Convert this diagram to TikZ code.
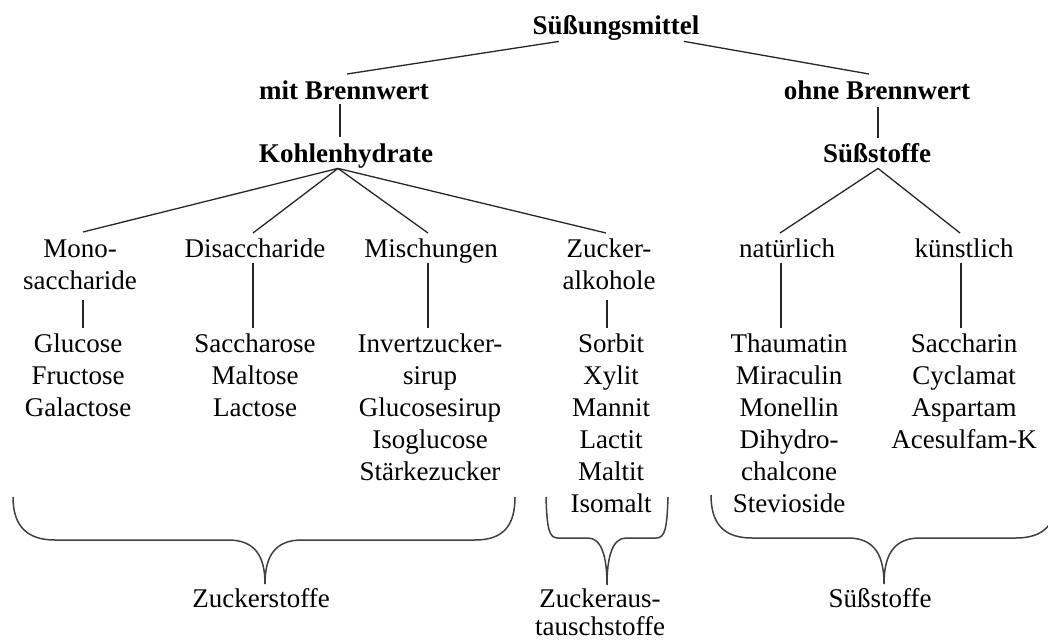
\documentclass[tikz,border=0pt]{standalone}
\usepackage{fontspec}
\setmainfont{Liberation Serif}
\usetikzlibrary{calc}
\begin{document}
\begin{tikzpicture}[x=1pt,y=-1pt,
  every node/.style={inner sep=0pt, outer sep=0pt, anchor=north, align=center, font=\fontsize{27}{32}\selectfont},
  hd/.style={font=\bfseries\fontsize{27}{32}\selectfont},
  conn/.style={line width=1.3pt, draw=black!85},
  brace/.style={line width=1.5pt, draw=black!75}]
\useasboundingbox (0,0) rectangle (1048,639);
\clip (0,0) rectangle (1048,639);
% headings
\node[hd] (root) at (616,12) {\strut Süßungsmittel};
\node[hd] (mb) at (344,77) {\strut mit Brennwert};
\node[hd] (ob) at (877,77) {\strut ohne Brennwert};
\node[hd] (kh) at (346,140) {\strut Kohlenhydrate};
\node[hd] (ss) at (877,140) {\strut Süßstoffe};
% categories
\node (mono) at (80,235) {\strut Mono-\\saccharide\strut};
\node (di) at (255,235) {\strut Disaccharide};
\node (mi) at (431,235) {\strut Mischungen};
\node (za) at (609,235) {\strut Zucker-\\alkohole\strut};
\node (nat) at (787,235) {\strut natürlich};
\node (kue) at (964,235) {\strut künstlich};
% lists
\node (ml1) at (78,330) {\strut Glucose\\Fructose\\Galactose\strut};
\node (dl) at (255,330) {\strut Saccharose\\Maltose\\Lactose\strut};
\node (mil) at (430,330) {\strut Invertzucker-\\sirup\\Glucosesirup\\Isoglucose\\Stärkezucker\strut};
\node (zl) at (611,330) {\strut Sorbit\\Xylit\\Mannit\\Lactit\\Maltit\\Isomalt\strut};
\node (nl) at (789,330) {\strut Thaumatin\\Miraculin\\Monellin\\Dihydro-\\chalcone\\Stevioside\strut};
\node (kl) at (964,330) {\strut Saccharin\\Cyclamat\\Aspartam\\Acesulfam-K\strut};
% bottom labels
\node (zs) at (261,585) {\strut Zuckerstoffe};
\node[font=\fontsize{27}{28}\selectfont] (zas) at (600,587.4) {\strut Zuckeraus-\\tauschstoffe};
\node (sst) at (880,585) {\strut Süßstoffe};
% connectors
\draw[conn] ($(root.south)+(-57,-2.6)$) -- ($(mb.north)+(3,-3)$);
\draw[conn] ($(root.south)+(68,-2.6)$) -- ($(ob.north)+(-8,-3)$);
\draw[conn] ($(mb.south)+(-4,-4.6)$) -- ($(kh.north)+(-6,-3)$);
\draw[conn] ($(ob.south)+(1,-1.6)$) -- ($(ss.north)+(1,-2)$);
\draw[conn] ($(kh.south)+(-8,-3.6)$) -- ($(mono.north)+(3,-3)$);
\draw[conn] ($(kh.south)+(-8,-3.6)$) -- ($(di.north)+(-2,-2)$);
\draw[conn] ($(kh.south)+(-8,-3.6)$) -- ($(mi.north)+(-3,-2)$);
\draw[conn] ($(kh.south)+(-8,-3.6)$) -- ($(za.north)+(-3,-2)$);
\draw[conn] ($(ss.south)+(1,-3.6)$) -- ($(nat.north)+(-7,-2)$);
\draw[conn] ($(ss.south)+(1,-3.6)$) -- ($(kue.north)+(-4,-2)$);
\draw[conn] ($(mono.south)+(3,1.4)$) -- ($(ml1.north)+(5,-2)$);
\draw[conn] ($(di.south)+(-2,-3.6)$) -- ($(dl.north)+(-2,-2)$);
\draw[conn] ($(mi.south)+(-3,-3.6)$) -- ($(mil.north)+(-2,-2)$);
\draw[conn] ($(za.south)+(-2,1.4)$) -- ($(zl.north)+(-4,-2)$);
\draw[conn] ($(nat.south)+(-6,-3.6)$) -- ($(nl.north)+(-8,-2)$);
\draw[conn] ($(kue.south)+(-3,-3.6)$) -- ($(kl.north)+(-3,-2)$);
% braces
\draw[brace] (13,497) .. controls (13,526) and (27,540) .. (55,540) -- (228,540)
  .. controls (255,540) and (265,556) .. (265,584)
  .. controls (265,556) and (275,540) .. (302,540) -- (475,540)
  .. controls (503,540) and (515,526) .. (515,497);
\draw[brace] (546,497) .. controls (547,529) and (549,538) .. (558,538) -- (588,538)
  .. controls (602,538) and (607,558) .. (607,585)
  .. controls (607,558) and (612,538) .. (626,538) -- (656,538)
  .. controls (665,538) and (667,529) .. (668,497);
\draw[brace] (711,495) .. controls (711,525) and (725,538) .. (752,538) -- (848,538)
  .. controls (875,538) and (884,556) .. (884,584)
  .. controls (884,556) and (893,538) .. (920,538) -- (1016,538)
  .. controls (1043,538) and (1057,525) .. (1057,495);
\end{tikzpicture}
\end{document}
